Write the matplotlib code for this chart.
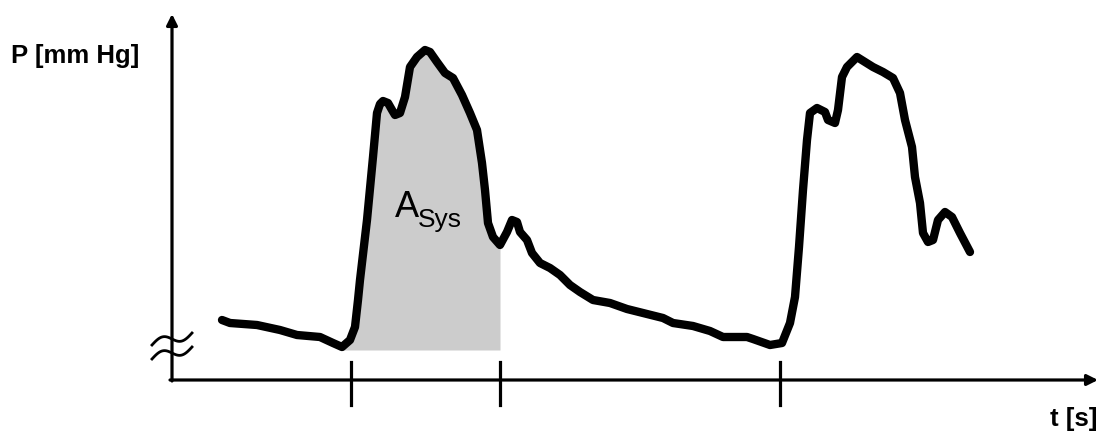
import numpy as np
import matplotlib
matplotlib.use("Agg")
import matplotlib.pyplot as plt

# pressure curve (t and p in drawing units above the axes origin)
t = [50, 58, 85, 108, 125, 148, 161, 170, 178, 183, 186, 188, 195, 201, 205, 208, 211, 216, 220, 223, 228,
     233, 238, 245, 253, 258, 265, 273, 281, 290, 298, 305, 310, 313, 316, 321, 328, 335, 340, 345,
     348, 355, 360, 368, 378, 388, 398, 408, 421, 438, 455, 475, 491, 501, 521, 538, 551, 575, 581,
     598, 610, 618, 623, 627, 631, 635, 638, 645, 653, 656, 663, 666, 670, 675, 685, 693, 701, 711,
     721, 728, 733, 740, 743, 748, 751, 756, 761, 766, 773, 780, 788, 798]
p = [60, 57, 55, 50, 45, 43, 37, 33, 40, 53, 80, 100, 160, 223, 267, 276, 279, 277, 270, 265, 267,
     283, 313, 323, 330, 328, 318, 307, 302, 285, 267, 250, 217, 190, 157, 143, 135, 148, 160, 158,
     148, 140, 127, 117, 112, 105, 95, 88, 80, 77, 71, 66, 62, 57, 54, 49, 43, 43, 41,
     35, 37, 57, 83, 133, 190, 240, 267, 272, 268, 260, 257, 270, 303, 313, 323, 318, 313, 308,
     302, 287, 260, 233, 203, 177, 147, 138, 140, 160, 168, 163, 147, 128]

tick_t = [179, 328, 608]
sys_start, sys_end = 170, 328
fill_base = 30

plt.rcParams['font.family'] = ['Liberation Sans Narrow', 'Liberation Sans', 'DejaVu Sans']

fig = plt.figure(figsize=(10.98, 4.33), dpi=100)
ax = fig.add_axes([0, 0, 1, 1])
ax.set_xlim(-172, 926)
ax.set_ylim(-53, 380)
ax.axis("off")

t_arr = np.asarray(t, dtype=float)
p_arr = np.asarray(p, dtype=float)

# systolic area
mask = (t_arr >= sys_start) & (t_arr <= sys_end)
ax.fill_between(t_arr[mask], fill_base, p_arr[mask], color="#cccccc", lw=0, zorder=1)

ax.plot(t_arr, p_arr, color="black", lw=6.0, solid_capstyle="round", solid_joinstyle="round", zorder=3)

# axes with arrows
ax.annotate("", xy=(926, 0), xytext=(-2, 0),
            arrowprops=dict(arrowstyle="-|>", lw=2.3, color="black", mutation_scale=16, shrinkA=0, shrinkB=0))
ax.annotate("", xy=(0, 366), xytext=(0, -1),
            arrowprops=dict(arrowstyle="-|>", lw=2.3, color="black", mutation_scale=16, shrinkA=0, shrinkB=0))

for tt in tick_t:
    ax.plot([tt, tt], [-25, 18], color="black", lw=2.3)

# axis break mark
s = np.linspace(-1, 1, 50)
for c in (41, 27):
    ax.plot(20 * s, c + 6 * s - 5 * np.sin(np.pi * s), color="black", lw=2.0, zorder=4)

ax.text(-161, 317, "P [mm Hg]", fontsize=18.5, fontweight="bold", ha="left", va="baseline")
ax.text(925, -46, "t [s]", fontsize=18.5, fontweight="bold", ha="right", va="baseline")

ax.text(223, 163, "A", fontsize=26, family=["Liberation Sans", "DejaVu Sans"], ha="left", va="baseline", zorder=5)
ax.text(246, 153, "Sys", fontsize=19, family=["Liberation Sans", "DejaVu Sans"], ha="left", va="baseline", zorder=5)

fig.savefig("out.png", dpi=100)
